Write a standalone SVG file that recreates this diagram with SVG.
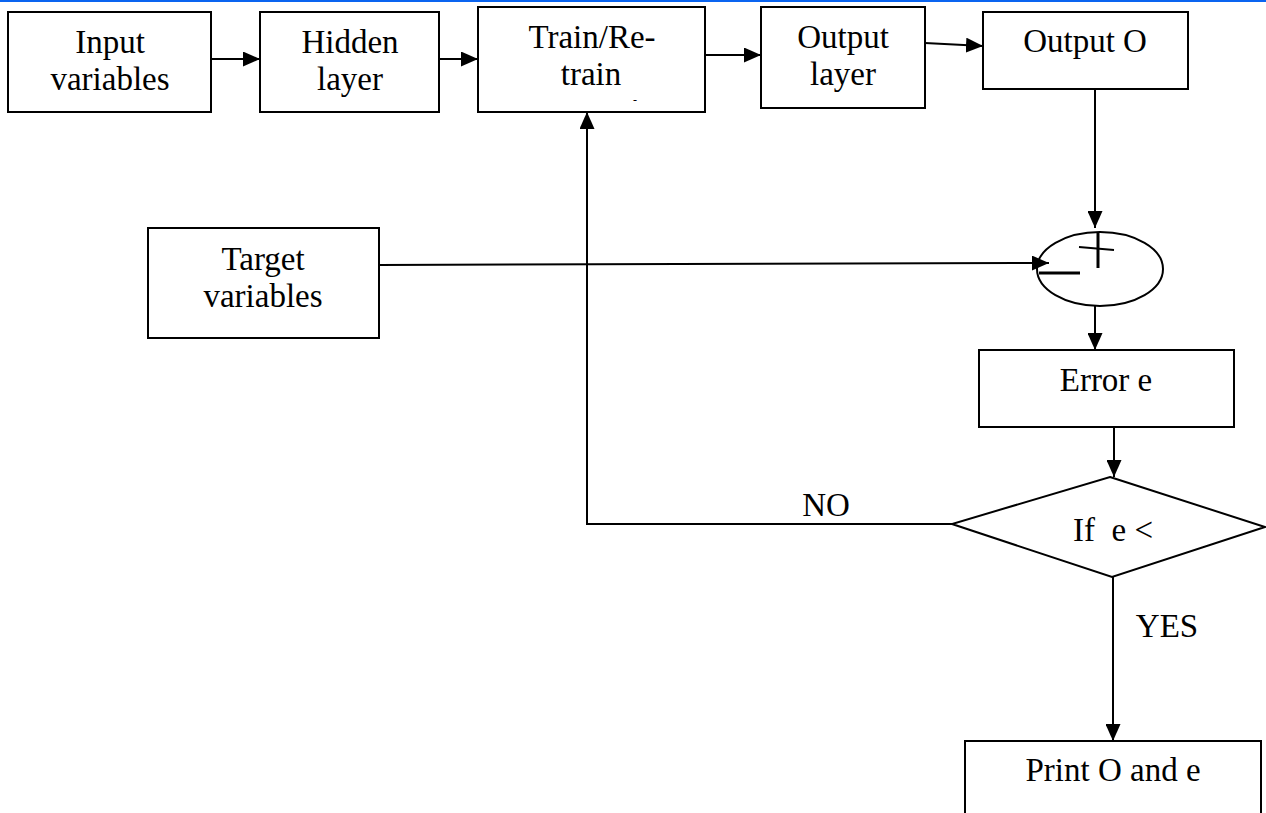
<svg xmlns="http://www.w3.org/2000/svg" width="1266" height="813" viewBox="0 0 1266 813">
<style>
.box{fill:#fff;stroke:#000;stroke-width:2}
.t{font-family:"Liberation Serif","Times New Roman",serif;font-size:33px;fill:#000;text-anchor:middle}
.c{fill:none;stroke:#000;stroke-width:2}
</style>
<defs>
<marker id="ah" markerUnits="userSpaceOnUse" markerWidth="17" markerHeight="15" refX="17" refY="7.5" orient="auto">
<path d="M0,0 L17,7.5 L0,15 z" fill="#000"/>
</marker>
<clipPath id="dclip"><rect x="900" y="470" width="366" height="72"/></clipPath>
</defs>
<rect x="0" y="0" width="1266" height="2" fill="#0a64f0"/>
<g id="input"><rect class="box" x="8" y="12" width="203" height="100"/><text class="t" x="110" y="53">Input</text><text class="t" x="110" y="90">variables</text></g>
<g id="hidden"><rect class="box" x="260" y="12" width="179" height="100"/><text class="t" x="350" y="53">Hidden</text><text class="t" x="350" y="90">layer</text></g>
<g id="train"><rect class="box" x="478" y="7" width="227" height="105"/><text class="t" x="592" y="48">Train/Re-</text><text class="t" x="591" y="85">train</text><text class="t" x="635" y="104" style="font-size:12px">-</text></g>
<g id="outlayer"><rect class="box" x="761" y="7" width="164" height="101"/><text class="t" x="843" y="48">Output</text><text class="t" x="843" y="85">layer</text></g>
<g id="outO"><rect class="box" x="983" y="12" width="205" height="77"/><text class="t" x="1085" y="52">Output O</text></g>
<g id="target"><rect class="box" x="148" y="228" width="231" height="110"/><text class="t" x="263" y="270">Target</text><text class="t" x="263" y="307">variables</text></g>
<g id="sum"><ellipse cx="1100" cy="269" rx="63" ry="37" fill="#fff" stroke="#000" stroke-width="2"/><line x1="1098" y1="233" x2="1098" y2="268" stroke="#000" stroke-width="3"/><line x1="1079" y1="247" x2="1114" y2="250" stroke="#000" stroke-width="2"/><line x1="1039" y1="273" x2="1080" y2="273" stroke="#000" stroke-width="3"/></g>
<g id="error"><rect class="box" x="979" y="350" width="255" height="77"/><text class="t" x="1106" y="391">Error e</text></g>
<g id="decision"><polygon points="1110,477 1265,527 1112,577 952,524" fill="#fff" stroke="#000" stroke-width="2"/><text class="t" x="1073" y="541" clip-path="url(#dclip)" style="text-anchor:start" xml:space="preserve">If  e &lt;</text></g>
<g id="print"><rect class="box" x="965" y="741" width="296" height="80"/><text class="t" x="1113" y="781">Print O and e</text></g>
<g id="connectors">
<line class="c" x1="211" y1="59" x2="260" y2="59" marker-end="url(#ah)"/>
<line class="c" x1="439" y1="59" x2="478" y2="59" marker-end="url(#ah)"/>
<line class="c" x1="705" y1="55" x2="761" y2="55" marker-end="url(#ah)"/>
<line class="c" x1="925" y1="43" x2="983" y2="46" marker-end="url(#ah)"/>
<line class="c" x1="1095" y1="89" x2="1095" y2="228" marker-end="url(#ah)"/>
<line class="c" x1="379" y1="265" x2="1049" y2="263" marker-end="url(#ah)"/>
<line class="c" x1="1095" y1="306" x2="1095" y2="350" marker-end="url(#ah)"/>
<line class="c" x1="1114" y1="427" x2="1114" y2="477" marker-end="url(#ah)"/>
<polyline class="c" points="952,524 587,524 587,112" marker-end="url(#ah)"/>
<line class="c" x1="1113" y1="577" x2="1113" y2="741" marker-end="url(#ah)"/>
<text class="t" x="826" y="516">NO</text>
<text class="t" x="1167" y="637">YES</text>
</g>
</svg>
